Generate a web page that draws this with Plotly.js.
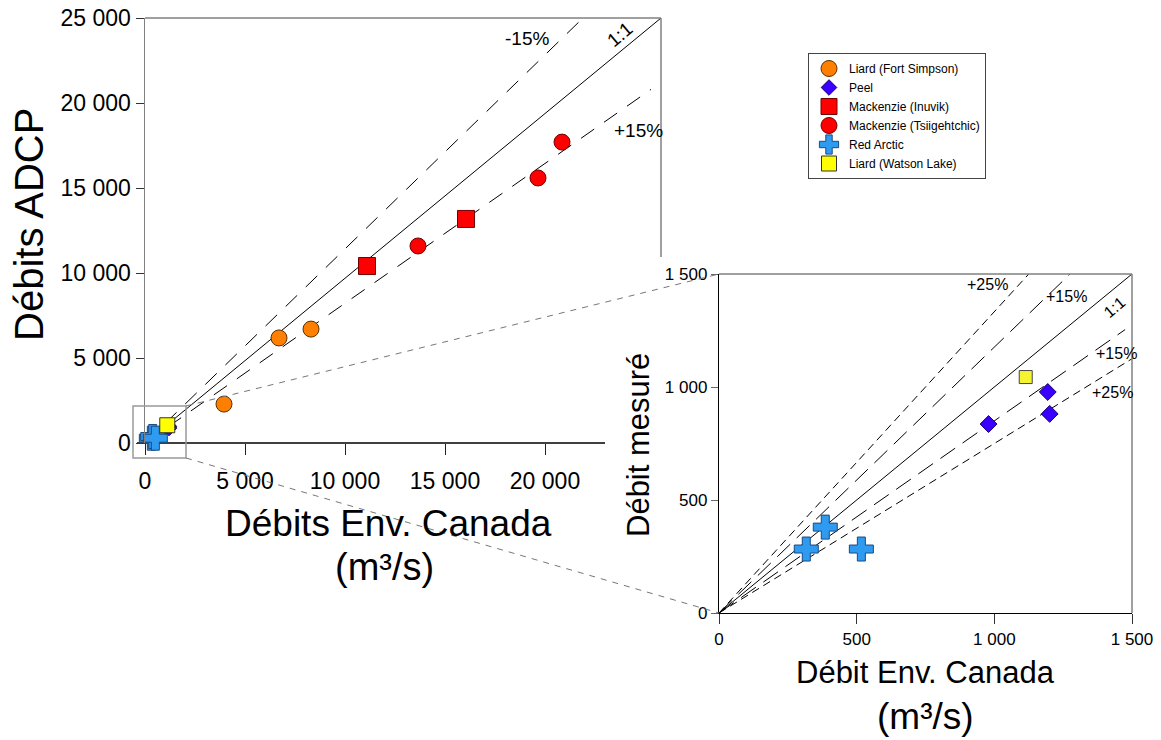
<!DOCTYPE html>
<html><head><meta charset="utf-8">
<script src="https://cdn.plot.ly/plotly-3.0.1.min.js"></script>
<style>html,body{margin:0;padding:0;background:#fff}</style>
</head><body><div id="chart" style="width:1161px;height:740px"></div>
<script>
// ---------- data ----------
const liardFS_x = [3950, 6700, 8300];
const liardFS_y = [2290, 6180, 6700];
const inuvik_x = [11100, 16050];
const inuvik_y = [10410, 13180];
const tsiig_x = [13650, 19650, 20850];
const tsiig_y = [11590, 15590, 17700];
const redArctic_x = [317, 386, 517];
const redArctic_y = [283, 380, 283];
const peel_x = [979, 1194, 1201];
const peel_y = [836, 978, 881];
const watson_x = [1114];
const watson_y = [1044];

// reference lines (main chart)
const mainOne_x = [0, 25800], mainOne_y = [0, 25000];
const mainM15_x = [0, 21900], mainM15_y = [0, 25000];
const mainP15_x = [0, 25300], mainP15_y = [0, 20800];
// reference lines (inset)
const insOne_x = [0, 1500], insOne_y = [0, 1500];
const insU15_x = [0, 1275], insU15_y = [0, 1500];
const insU25_x = [0, 1125], insU25_y = [0, 1500];
const insL15_x = [0, 1475], insL15_y = [0, 1254];
const insL25_x = [0, 1500], insL25_y = [0, 1125];

const mainYTickVals = [0, 5000, 10000, 15000, 20000, 25000];
const mainYTickText = ['0', '5 000', '10 000', '15 000', '20 000', '25 000'];
const mainXTickVals = [0, 5000, 10000, 15000, 20000];
const mainXTickText = ['0', '5 000', '10 000', '15 000', '20 000'];
const insTickVals = [0, 500, 1000, 1500];
const insTickText = ['0', '500', '1 000', '1 500'];

const seriesNames = ['Liard (Fort Simpson)', 'Peel', 'Mackenzie (Inuvik)',
  'Mackenzie (Tsiigehtchic)', 'Red Arctic', 'Liard (Watson Lake)'];

// ---------- styling ----------
const W = 1161, H = 740;
const FONT = 'Liberation Sans, Arial, Helvetica, sans-serif';
const px = x => x / W;
const py = y => 1 - y / H;

const C_ORANGE = '#FF8000', C_PEEL = '#3A00FF', C_RED = '#FF0000',
      C_BLUE = '#2E9BF0', C_YELLOW = '#FFFF00';

function refLine(x, y, xa, ya, dash) {
  return {x: x, y: y, xaxis: xa, yaxis: ya, mode: 'lines', showlegend: false,
    hoverinfo: 'skip', line: {color: '#000', width: 1, dash: dash}};
}
function pts(x, y, xa, ya, name, sym, size, color, lcolor, show) {
  return {x: x, y: y, xaxis: xa, yaxis: ya, mode: 'markers', name: name,
    showlegend: show, cliponaxis: false,
    marker: {symbol: sym, size: size, color: color, line: {color: lcolor, width: 1}}};
}

const traces = [
  refLine(mainOne_x, mainOne_y, 'x', 'y', 'solid'),
  refLine(mainM15_x, mainM15_y, 'x', 'y', '16px,12px'),
  refLine(mainP15_x, mainP15_y, 'x', 'y', '16px,12px'),
  pts(liardFS_x, liardFS_y, 'x', 'y', seriesNames[0], 'circle', 16, C_ORANGE, '#5a3000', true),
  pts(peel_x, peel_y, 'x', 'y', seriesNames[1], 'diamond', 12, C_PEEL, '#1a0070', true),
  pts(inuvik_x, inuvik_y, 'x', 'y', seriesNames[2], 'square', 17, C_RED, '#700000', true),
  pts(tsiig_x, tsiig_y, 'x', 'y', seriesNames[3], 'circle', 16, C_RED, '#700000', true),
  pts(redArctic_x, redArctic_y, 'x', 'y', seriesNames[4], 'cross', 20, C_BLUE, '#1a4a80', true),
  pts(watson_x, watson_y, 'x', 'y', seriesNames[5], 'square', 15, C_YELLOW, '#333', true),

  refLine(insOne_x, insOne_y, 'x2', 'y2', 'solid'),
  refLine(insU15_x, insU15_y, 'x2', 'y2', '18px,9px'),
  refLine(insL15_x, insL15_y, 'x2', 'y2', '18px,9px'),
  refLine(insU25_x, insU25_y, 'x2', 'y2', '8px,5px'),
  refLine(insL25_x, insL25_y, 'x2', 'y2', '8px,5px'),
  pts(peel_x, peel_y, 'x2', 'y2', seriesNames[1], 'diamond', 13, C_PEEL, '#1a0070', false),
  pts(redArctic_x, redArctic_y, 'x2', 'y2', seriesNames[4], 'cross', 20, C_BLUE, '#1a4a80', false),
  pts(watson_x, watson_y, 'x2', 'y2', seriesNames[5], 'square', 13, '#F4F430', '#444', false)
];

function lineShape(x0, y0, x1, y1, color, width, dash, layer) {
  return {type: 'line', xref: 'paper', yref: 'paper', x0: px(x0), y0: py(y0),
    x1: px(x1), y1: py(y1), layer: layer || 'above',
    line: {color: color, width: width, dash: dash || 'solid'}};
}

const shapes = [
  // main frame
  lineShape(145, 18, 661, 18, '#808080', 1.5),
  lineShape(661, 18, 661, 257, '#808080', 1.5),
  lineShape(137, 443, 605, 443, '#000', 1.5, 'solid', 'below'),
  // inset frame top/right
  lineShape(719, 274, 1132, 274, '#808080', 1.5),
  lineShape(1132, 274, 1132, 613, '#808080', 1.5),
  // zoom box and connectors
  {type: 'rect', xref: 'paper', yref: 'paper', x0: px(133), y0: py(458), x1: px(186), y1: py(406),
   line: {color: '#999', width: 1.5}, layer: 'above'},
  lineShape(186, 406, 719, 274, '#777', 1, '6px,6px'),
  lineShape(186, 458, 719, 613, '#777', 1, '6px,6px')
];

function ann(text, x, y, size, angle) {
  return {text: text, xref: 'paper', yref: 'paper', x: px(x), y: py(y),
    xanchor: 'center', yanchor: 'middle', showarrow: false, textangle: angle || 0,
    font: {family: FONT, size: size, color: '#000'}};
}

const annotations = [
  ann('Débits ADCP', 29, 225, 40, -90),
  ann('Débits Env. Canada', 388, 523, 37),
  ann('(m³/s)', 384, 567, 38),
  ann('-15%', 527, 38, 19),
  ann('1:1', 620, 35, 19, -40),
  ann('+15%', 638, 130, 19),
  ann('Débit mesuré', 638, 445, 31, -90),
  ann('Débit Env. Canada', 925, 672, 31),
  ann('(m³/s)', 925, 716, 37),
  ann('+25%', 988, 285, 16),
  ann('+15%', 1066, 296, 16),
  ann('1:1', 1114, 307, 16, -40),
  ann('+15%', 1116, 353, 16),
  ann('+25%', 1112, 392, 16)
];

const layout = {
  width: W, height: H,
  margin: {l: 0, r: 0, t: 0, b: 0},
  paper_bgcolor: '#fff', plot_bgcolor: 'rgba(0,0,0,0)',
  font: {family: FONT, color: '#000'},
  showlegend: true,
  legend: {x: px(808), y: py(53), xanchor: 'left', yanchor: 'top',
    bordercolor: '#444', borderwidth: 1, bgcolor: '#fff',
    font: {family: FONT, size: 12, color: '#000'}, tracegroupgap: 0},
  xaxis: {domain: [px(145), px(661)], range: [0, 25800], anchor: 'y',
    showline: false, showgrid: false, zeroline: false,
    ticks: 'outside', ticklen: 11, tickwidth: 1, tickcolor: '#222',
    ticklabelstandoff: 6,
    tickvals: mainXTickVals, ticktext: mainXTickText,
    tickfont: {family: FONT, size: 23, color: '#000'}},
  yaxis: {domain: [py(443), py(18)], range: [0, 25000], anchor: 'x',
    showline: true, linecolor: '#808080', linewidth: 1.5, showgrid: false, zeroline: false,
    ticks: 'outside', ticklen: 8, tickwidth: 1, tickcolor: '#333',
    tickvals: mainYTickVals, ticktext: mainYTickText,
    tickfont: {family: FONT, size: 23, color: '#000'}},
  xaxis2: {domain: [px(719), px(1132)], range: [0, 1500], anchor: 'y2',
    showline: true, linecolor: '#000', linewidth: 1.2, showgrid: false, zeroline: false,
    ticks: 'outside', ticklen: 10, tickwidth: 1, tickcolor: '#333',
    tickvals: insTickVals, ticktext: insTickText,
    tickfont: {family: FONT, size: 17, color: '#000'}},
  yaxis2: {domain: [py(613), py(274)], range: [0, 1500], anchor: 'x2',
    showline: true, linecolor: '#000', linewidth: 1.2, showgrid: false, zeroline: false,
    ticks: 'outside', ticklen: 7, tickwidth: 1, tickcolor: '#666',
    tickvals: insTickVals, ticktext: insTickText,
    tickfont: {family: FONT, size: 17, color: '#000'}},
  shapes: shapes,
  annotations: annotations
};

Plotly.newPlot('chart', traces, layout, {displayModeBar: false, staticPlot: true});
</script>
</body></html>
